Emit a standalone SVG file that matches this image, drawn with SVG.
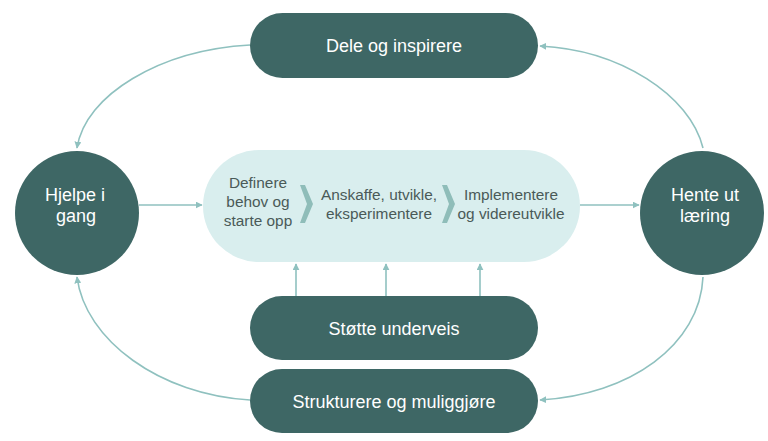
<svg xmlns="http://www.w3.org/2000/svg" width="768" height="441" viewBox="0 0 768 441">
<style>
.dark{fill:#3e6765}
.lt{font-family:"Liberation Sans",Arial,sans-serif;font-size:18px;fill:#ffffff;text-anchor:middle}
.ct{font-family:"Liberation Sans",Arial,sans-serif;font-size:15.4px;fill:#4a5a58;text-anchor:middle}
.con{fill:none;stroke:#8fc1bf;stroke-width:1.6}
.chev{fill:#8fbdb9}
</style>
<defs>
<marker id="ah" viewBox="0 0 10 10" refX="9" refY="5" markerWidth="7" markerHeight="7" orient="auto" markerUnits="userSpaceOnUse">
<path d="M0,0 L10,5 L0,10 z" fill="#8fc1bf"/>
</marker>
</defs>
<rect width="768" height="441" fill="#ffffff"/>
<g id="connectors">
<path class="con" d="M250,45 C160,50 85,95 77,148" marker-end="url(#ah)"/>
<path class="con" d="M703,148 C690,95 620,50 540,46" marker-end="url(#ah)"/>
<path class="con" d="M250,400 C160,395 85,340 77,277" marker-end="url(#ah)"/>
<path class="con" d="M703,277 C700,345 630,395 540,400" marker-end="url(#ah)"/>
<path class="con" d="M139,205 L202,205" marker-end="url(#ah)"/>
<path class="con" d="M580,205 L639,205" marker-end="url(#ah)"/>
<path class="con" d="M296,296 L296,264" marker-end="url(#ah)"/>
<path class="con" d="M386,296 L386,264" marker-end="url(#ah)"/>
<path class="con" d="M480,296 L480,264" marker-end="url(#ah)"/>
</g>
<g id="process">
<rect x="203" y="150" width="377" height="112" rx="56" fill="#d9eeee"/>
<path class="chev" d="M300,185 L305,185 L313,204 L305,223 L300,223 L307,204 z"/>
<path class="chev" d="M442,185 L447,185 L455,204 L447,223 L442,223 L449,204 z"/>
<text class="ct" x="258" y="188">Definere</text>
<text class="ct" x="258" y="207">behov og</text>
<text class="ct" x="258" y="226">starte opp</text>
<text class="ct" x="379" y="200">Anskaffe, utvikle,</text>
<text class="ct" x="379" y="219">eksperimentere</text>
<text class="ct" x="511" y="200">Implementere</text>
<text class="ct" x="511" y="219">og videreutvikle</text>
</g>
<g id="dele">
<rect class="dark" x="250" y="13" width="288" height="65" rx="32.5"/>
<text class="lt" x="394" y="52">Dele og inspirere</text>
</g>
<g id="hjelpe">
<circle class="dark" cx="77" cy="213" r="62"/>
<text class="lt" x="75" y="201">Hjelpe i</text>
<text class="lt" x="76" y="222">gang</text>
</g>
<g id="hente">
<circle class="dark" cx="702" cy="213" r="62"/>
<text class="lt" x="705" y="201">Hente ut</text>
<text class="lt" x="705" y="222">læring</text>
</g>
<g id="stotte">
<rect class="dark" x="250" y="296" width="288" height="64" rx="32"/>
<text class="lt" x="394" y="335">Støtte underveis</text>
</g>
<g id="strukturere">
<rect class="dark" x="250" y="369" width="288" height="64" rx="32"/>
<text class="lt" x="394" y="408">Strukturere og muliggjøre</text>
</g>
</svg>
